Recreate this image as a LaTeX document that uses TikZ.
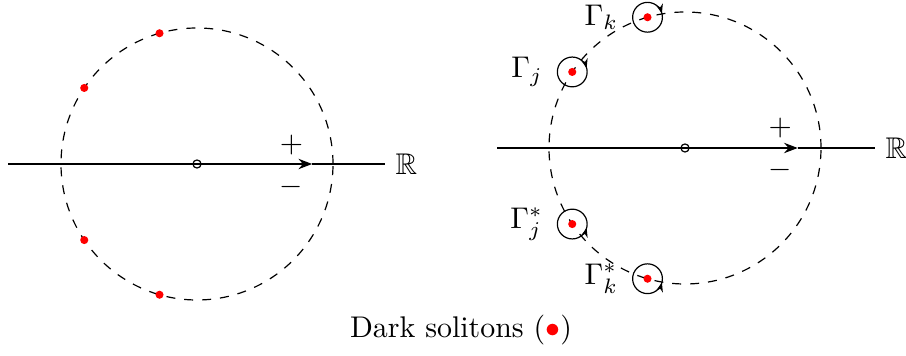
\documentclass[tikz,border=0pt]{standalone}
\usepackage{tikz}
\usetikzlibrary{positioning, arrows.meta, calc}
\usepackage{amsfonts,amssymb,amsmath}

\begin{document}
\begin{tikzpicture}[scale=0.94,
    sol/.style={circle, fill=red, inner sep=0pt, minimum size=0.95mm},
    orig/.style={circle, draw, inner sep=0pt, minimum size=0.95mm},
    axis/.style={thick},
    contour/.style={circle, draw, inner sep=0pt, minimum size=3.5mm},
    loop/.style={-{Stealth[length=1.1mm]}},
    circ/.style={dashed}
]
\useasboundingbox (-2.4625,-2.4) rectangle (8.8625,2.05);

% Cerchio sinistro
\node[orig] (o1) at (0,0) {};
\draw[circ] (o1.center) circle (1.7);
\coordinate (a1) at (-2.36,0);
\coordinate (m1) at (1.44,0);
\coordinate (b1) at (2.35,0);
\draw[axis, -{Stealth[length=1.6mm, width=1.2mm]}] (a1) -- (m1);
\draw[axis] (m1) -- (b1);
\node[right=0pt of b1] (R1) {$\mathbb{R}$};
\node (p1) at (1.18,0.24) {$+$};
\node (n1) at (1.18,-0.29) {$-$};

% Solitoni a sinistra
\foreach \a/\n in {106/d1, 146/d2, -146/d3, -106/d4}
    \node[sol] (\n) at ($(o1)+(\a:1.7)$) {};

% Cerchio destro
\node[orig] (o2) at (6.1,0.2) {};
\draw[circ] (o2.center) circle (1.7);
\coordinate (a2) at (3.75,0.2);
\coordinate (m2) at (7.51,0.2);
\coordinate (b2) at (8.475,0.2);
\draw[axis, -{Stealth[length=1.6mm, width=1.2mm]}] (a2) -- (m2);
\draw[axis] (m2) -- (b2);
\node[right=0pt of b2] (R2) {$\mathbb{R}$};
\node (p2) at (7.29,0.45) {$+$};
\node (n2) at (7.29,-0.07) {$-$};

% Contorni
\node[contour] (ck) at ($(o2)+(106:1.7)$) {};
\node[contour] (cj) at ($(o2)+(146:1.7)$) {};
\node[contour] (cjs) at ($(o2)+(-146:1.7)$) {};
\node[contour] (cks) at ($(o2)+(-106:1.7)$) {};
\foreach \c in {ck, cj, cjs, cks}
    \node[sol] at (\c) {};

\draw[loop] ($(ck)+(35:0.186)$) arc (35:15:0.186);
\draw[loop] ($(cj)+(35:0.186)$) arc (35:15:0.186);
\draw[loop] ($(cjs)+(-35:0.186)$) arc (-35:-15:0.186);
\draw[loop] ($(cks)+(-35:0.186)$) arc (-35:-15:0.186);

\node[left=0.4mm of ck] (lk) {$\Gamma_k$};
\node[left=0.4mm of cj] (lj) {$\Gamma_j$};
\node[left=0.4mm of cjs] (ljs) {$\Gamma_j^*$};
\node[left=0.4mm of cks] (lks) {$\Gamma_k^*$};

% Didascalia
\node (cap) at (3.3,-2.075) {Dark solitons ({\color{red}$\bullet$})};

\end{tikzpicture}
\end{document}
